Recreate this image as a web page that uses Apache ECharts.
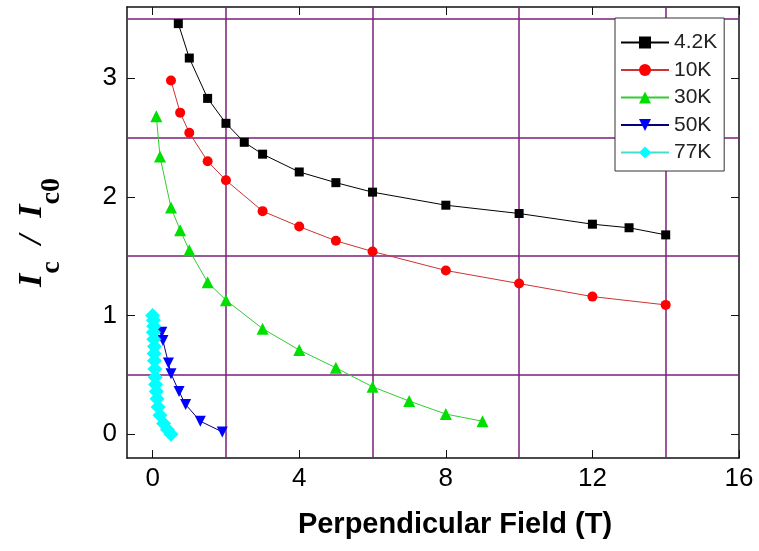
<!DOCTYPE html>
<html><head><meta charset="utf-8">
<script src="https://cdn.jsdelivr.net/npm/echarts@6/dist/echarts.min.js"></script>
<style>html,body{margin:0;padding:0;background:#fff}#c{width:759px;height:551px}</style>
</head><body><div id="c"></div>
<script>
const seriesNames = ['4.2K', '10K', '30K', '50K', '77K'];

const x42 = [0.7, 1, 1.5, 2, 2.5, 3, 4, 5, 6, 8, 10, 12, 13, 14];
const y42 = [3.46, 3.17, 2.83, 2.62, 2.46, 2.36, 2.21, 2.12, 2.04, 1.93, 1.86, 1.77, 1.74, 1.68];

const x10 = [0.5, 0.75, 1, 1.5, 2, 3, 4, 5, 6, 8, 10, 12, 14];
const y10 = [2.98, 2.71, 2.54, 2.30, 2.14, 1.88, 1.75, 1.63, 1.54, 1.38, 1.27, 1.16, 1.09];

const x30 = [0.1, 0.2, 0.5, 0.75, 1, 1.5, 2, 3, 4, 5, 6, 7, 8, 9];
const y30 = [2.68, 2.34, 1.91, 1.72, 1.55, 1.28, 1.13, 0.89, 0.71, 0.56, 0.40, 0.28, 0.17, 0.11];

const x50 = [0.25, 0.28, 0.43, 0.5, 0.72, 0.9, 1.3, 1.9];
const y50 = [0.86, 0.79, 0.6, 0.51, 0.36, 0.25, 0.11, 0.02];

const x77 = [0, 0.02, 0.03, 0.02, 0.03, 0.05, 0.04, 0.05, 0.06, 0.07, 0.08, 0.1, 0.12, 0.15, 0.2, 0.3, 0.4, 0.5];
const y77 = [1.0, 0.96, 0.91, 0.86, 0.8, 0.74, 0.68, 0.62, 0.55, 0.48, 0.42, 0.36, 0.3, 0.23, 0.16, 0.09, 0.04, 0.0];

const xTicks = [0, 4, 8, 12, 16];
const yTicks = [0, 1, 2, 3];
const xGridLines = [2, 6, 10, 14];
const yGridLines = [0.5, 1.5, 2.5, 3.5];

const xName = 'Perpendicular Field (T)';

function pairs(xs, ys) { return xs.map((v, i) => [v, ys[i]]); }

const chart = echarts.init(document.getElementById('c'), null, { renderer: 'canvas' });

const tickLabel = { color: '#000', fontSize: 26, fontFamily: 'Liberation Sans, Arial, sans-serif' };
const frameLine = { show: true, onZero: false, lineStyle: { color: '#111', width: 1.5 } };

const xAxisBase = {
  type: 'value', min: -0.7, max: 16,
  axisLine: frameLine,
  splitLine: { show: false },
  axisTick: { show: true, inside: true, length: 8, customValues: xTicks, lineStyle: { color: '#111', width: 1 } }
};
const yAxisBase = {
  type: 'value', min: -0.2, max: 3.6,
  axisLine: frameLine,
  splitLine: { show: false },
  axisTick: { show: true, inside: true, length: 8, customValues: yTicks, lineStyle: { color: '#111', width: 1 } }
};

function mk(name, xs, ys, symbol, size, markerColor, lineColor) {
  return {
    name: name, type: 'line', data: pairs(xs, ys), z: 5,
    symbol: symbol, symbolSize: size, showAllSymbol: true,
    itemStyle: { color: markerColor },
    lineStyle: { color: lineColor, width: 1 },
    emphasis: { disabled: true }
  };
}

const gridMarkData = xGridLines.map(v => ({ xAxis: v })).concat(yGridLines.map(v => ({ yAxis: v })));

chart.setOption({
  animation: false,
  backgroundColor: '#fff',
  grid: { left: 127, right: 20, top: 7, bottom: 93, containLabel: false, outerBoundsMode: 'none' },
  legend: {
    orient: 'vertical', left: 615, top: 18,
    data: seriesNames,
    backgroundColor: '#fff', borderColor: '#333', borderWidth: 1,
    padding: [14, 7, 8, 5],
    itemWidth: 48, itemHeight: 15, itemGap: 6.5,
    textStyle: { color: '#222', fontSize: 21, fontFamily: 'Liberation Sans, Arial, sans-serif' },
    z: 10
  },
  xAxis: [
    Object.assign({}, xAxisBase, {
      position: 'bottom',
      axisLabel: { show: true, customValues: xTicks, margin: 8, ...tickLabel },
      name: xName, nameLocation: 'middle', nameGap: 52,
      nameTextStyle: { color: '#000', fontSize: 29, fontWeight: 'bold', fontFamily: 'Liberation Sans, Arial, sans-serif', padding: [0, 0, 0, 44] }
    }),
    Object.assign({}, xAxisBase, { position: 'top', axisLabel: { show: false } })
  ],
  yAxis: [
    Object.assign({}, yAxisBase, {
      position: 'left',
      axisLabel: { show: true, customValues: yTicks, margin: 10, ...tickLabel },
      name: '{m|I}{s|c}{m|  /  I}{s|c0}', nameLocation: 'middle', nameGap: 75, nameRotate: 90,
      nameTextStyle: {
        rich: {
          m: { fontSize: 34, fontWeight: 'bold', fontStyle: 'italic', fontFamily: 'Liberation Serif, Times New Roman, serif', color: '#000', lineHeight: 40 },
          s: { fontSize: 28, fontWeight: 'bold', fontFamily: 'Liberation Serif, Times New Roman, serif', color: '#000', lineHeight: 24, padding: [40, 0, 0, 0] }
        }
      }
    }),
    Object.assign({}, yAxisBase, { position: 'right', axisLabel: { show: false } })
  ],
  series: [
    {
      type: 'line', data: [], z: 1, silent: true,
      markLine: {
        silent: true, symbol: 'none', animation: false,
        label: { show: false },
        lineStyle: { color: '#7b1f7b', width: 1.5, type: 'solid' },
        emphasis: { disabled: true },
        data: gridMarkData
      }
    },
    mk('4.2K', x42, y42, 'rect', 9, '#000', '#000'),
    mk('10K', x10, y10, 'circle', 10, '#ff0000', '#cc3333'),
    mk('30K', x30, y30, 'triangle', 12, '#00e000', '#33cc33'),
    mk('50K', x50, y50, 'path://M0,0 L10,0 L5,10 Z', 11, '#0000ff', '#000080'),
    mk('77K', x77, y77, 'diamond', 15, '#00ffff', '#40e0d0')
  ]
});
</script>
</body></html>
